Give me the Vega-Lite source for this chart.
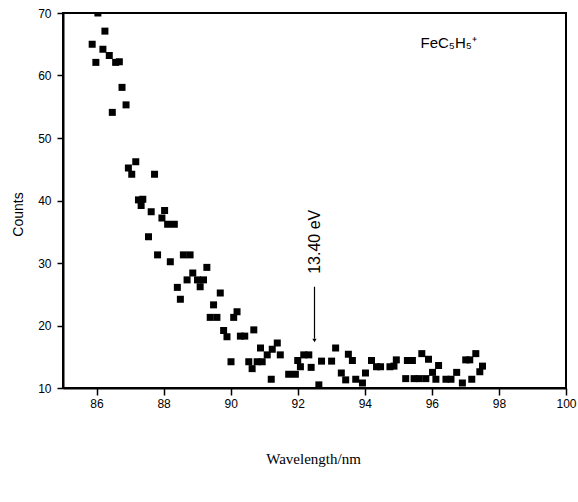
{
  "$schema": "https://vega.github.io/schema/vega-lite/v6.json",
  "width": 503,
  "height": 375,
  "autosize": {"type": "none"},
  "padding": {"left": 63, "top": 13, "right": 12, "bottom": 114},
  "background": "white",
  "config": {
    "view": {"stroke": "black", "strokeWidth": 2},
    "axis": {"grid": false, "domainColor": "black", "domainWidth": 2, "tickColor": "black", "tickWidth": 1.5, "labelColor": "black", "titleColor": "black", "labelFont": "Liberation Sans", "labelFontSize": 12, "titleFontWeight": "normal"}
  },
  "datasets": {
    "pts": [
      {"x": 85.87, "y": 65.0}, {"x": 86.04, "y": 70.0}, {"x": 85.98, "y": 62.1}, {"x": 86.19, "y": 64.2},
      {"x": 86.25, "y": 67.1}, {"x": 86.38, "y": 63.2}, {"x": 86.57, "y": 62.1}, {"x": 86.68, "y": 62.2},
      {"x": 86.76, "y": 58.1}, {"x": 86.88, "y": 55.3}, {"x": 86.47, "y": 54.1}, {"x": 87.17, "y": 46.2},
      {"x": 86.95, "y": 45.2}, {"x": 87.05, "y": 44.2}, {"x": 87.73, "y": 44.2}, {"x": 87.38, "y": 40.2},
      {"x": 87.25, "y": 40.1}, {"x": 87.33, "y": 39.2}, {"x": 87.63, "y": 38.2}, {"x": 88.03, "y": 38.4},
      {"x": 87.95, "y": 37.2}, {"x": 88.12, "y": 36.2}, {"x": 88.32, "y": 36.2}, {"x": 87.55, "y": 34.2},
      {"x": 87.82, "y": 31.3}, {"x": 88.2, "y": 30.2}, {"x": 88.59, "y": 31.3}, {"x": 88.79, "y": 31.3},
      {"x": 89.29, "y": 29.3}, {"x": 88.87, "y": 28.4}, {"x": 88.7, "y": 27.3}, {"x": 89.01, "y": 27.3},
      {"x": 89.19, "y": 27.3}, {"x": 89.09, "y": 26.2}, {"x": 88.41, "y": 26.1}, {"x": 89.69, "y": 25.2},
      {"x": 88.5, "y": 24.2}, {"x": 89.49, "y": 23.3}, {"x": 89.39, "y": 21.3}, {"x": 89.59, "y": 21.3},
      {"x": 90.19, "y": 22.2}, {"x": 90.09, "y": 21.3}, {"x": 89.79, "y": 19.2}, {"x": 89.89, "y": 18.2},
      {"x": 90.29, "y": 18.3}, {"x": 90.42, "y": 18.3}, {"x": 90.69, "y": 19.3}, {"x": 90.89, "y": 16.4},
      {"x": 91.39, "y": 17.2}, {"x": 91.24, "y": 16.2}, {"x": 91.48, "y": 15.3}, {"x": 91.09, "y": 15.3},
      {"x": 90.94, "y": 14.2}, {"x": 90.79, "y": 14.2}, {"x": 90.54, "y": 14.2}, {"x": 90.64, "y": 13.1},
      {"x": 90.01, "y": 14.2}, {"x": 91.21, "y": 11.4}, {"x": 91.73, "y": 12.2}, {"x": 91.93, "y": 12.2},
      {"x": 92.0, "y": 14.4}, {"x": 92.18, "y": 15.3}, {"x": 92.33, "y": 15.3}, {"x": 92.08, "y": 13.4},
      {"x": 92.4, "y": 13.3}, {"x": 92.71, "y": 14.3}, {"x": 93.01, "y": 14.3}, {"x": 93.13, "y": 16.4},
      {"x": 93.51, "y": 15.4}, {"x": 93.63, "y": 14.4}, {"x": 93.3, "y": 12.4}, {"x": 93.43, "y": 11.3},
      {"x": 93.73, "y": 11.4}, {"x": 94.02, "y": 12.4}, {"x": 94.2, "y": 14.4}, {"x": 94.35, "y": 13.4},
      {"x": 94.47, "y": 13.4}, {"x": 94.75, "y": 13.4}, {"x": 92.63, "y": 10.5}, {"x": 93.93, "y": 10.8},
      {"x": 94.94, "y": 14.5}, {"x": 94.87, "y": 13.5}, {"x": 95.27, "y": 14.4}, {"x": 95.42, "y": 14.4},
      {"x": 95.7, "y": 15.5}, {"x": 95.9, "y": 14.6}, {"x": 96.2, "y": 13.6}, {"x": 96.02, "y": 12.5},
      {"x": 95.22, "y": 11.5}, {"x": 95.47, "y": 11.5}, {"x": 95.62, "y": 11.5}, {"x": 95.82, "y": 11.5},
      {"x": 96.12, "y": 11.4}, {"x": 96.42, "y": 11.4}, {"x": 96.57, "y": 11.4}, {"x": 96.74, "y": 12.5},
      {"x": 97.01, "y": 14.5}, {"x": 97.13, "y": 14.5}, {"x": 97.31, "y": 15.5}, {"x": 97.51, "y": 13.5},
      {"x": 97.43, "y": 12.6}, {"x": 97.19, "y": 11.4}, {"x": 96.91, "y": 10.8}
    ],
    "arrow": [{"x": 92.5, "y": 26.2, "y2": 17.9}],
    "head": [{"x": 92.5, "y": 17.6}],
    "eV": [{"x": 92.5, "y": 33.4, "label": "13.40 eV"}],
    "ion": [{"x": 96.5, "y": 65.2, "label": "FeC₅H₅⁺"}]
  },
  "layer": [
    {
      "data": {"name": "pts"},
      "mark": {"type": "square", "size": 49, "color": "black", "filled": true, "opacity": 1, "clip": true},
      "encoding": {
        "x": {"field": "x", "type": "quantitative", "scale": {"domain": [85, 100], "nice": false, "zero": false},
          "axis": {"values": [86, 87, 88, 89, 90, 91, 92, 93, 94, 95, 96, 97, 98, 99, 100],
            "labelExpr": "datum.value % 2 == 0 ? datum.label : ''",
            "tickSize": {"condition": {"test": "datum.value % 2 == 0", "value": 7}, "value": 4},
            "labelPadding": 3, "labelFlush": false,
            "title": "Wavelength/nm", "titleFont": "Liberation Serif", "titleFontSize": 15,
            "titleX": 250, "titleY": 70, "titleBaseline": "middle"}},
        "y": {"field": "y", "type": "quantitative", "scale": {"domain": [10, 70], "nice": false, "zero": false},
          "axis": {"values": [10, 15, 20, 25, 30, 35, 40, 45, 50, 55, 60, 65, 70],
            "labelExpr": "datum.value % 10 == 0 ? datum.label : ''",
            "tickSize": {"condition": {"test": "datum.value % 10 == 0", "value": 6}, "value": 3},
            "labelPadding": 6, "labelFlush": false,
            "title": "Counts", "titleFont": "Liberation Sans", "titleFontSize": 14,
            "titleX": -45, "titleY": 201, "titleBaseline": "middle"}}
      }
    },
    {
      "data": {"name": "arrow"},
      "mark": {"type": "rule", "color": "black", "strokeWidth": 1.2},
      "encoding": {
        "x": {"field": "x", "type": "quantitative"},
        "y": {"field": "y", "type": "quantitative"},
        "y2": {"field": "y2"}
      }
    },
    {
      "data": {"name": "head"},
      "mark": {"type": "point", "shape": "triangle-down", "size": 18, "filled": true, "color": "black", "opacity": 1},
      "encoding": {
        "x": {"field": "x", "type": "quantitative"},
        "y": {"field": "y", "type": "quantitative"}
      }
    },
    {
      "data": {"name": "eV"},
      "mark": {"type": "text", "angle": 270, "font": "Liberation Sans", "fontSize": 16, "color": "black", "align": "center", "baseline": "middle"},
      "encoding": {
        "x": {"field": "x", "type": "quantitative"},
        "y": {"field": "y", "type": "quantitative"},
        "text": {"field": "label"}
      }
    },
    {
      "data": {"name": "ion"},
      "mark": {"type": "text", "font": "Liberation Sans", "fontSize": 15, "color": "black", "align": "center", "baseline": "middle"},
      "encoding": {
        "x": {"field": "x", "type": "quantitative"},
        "y": {"field": "y", "type": "quantitative"},
        "text": {"field": "label"}
      }
    }
  ]
}
